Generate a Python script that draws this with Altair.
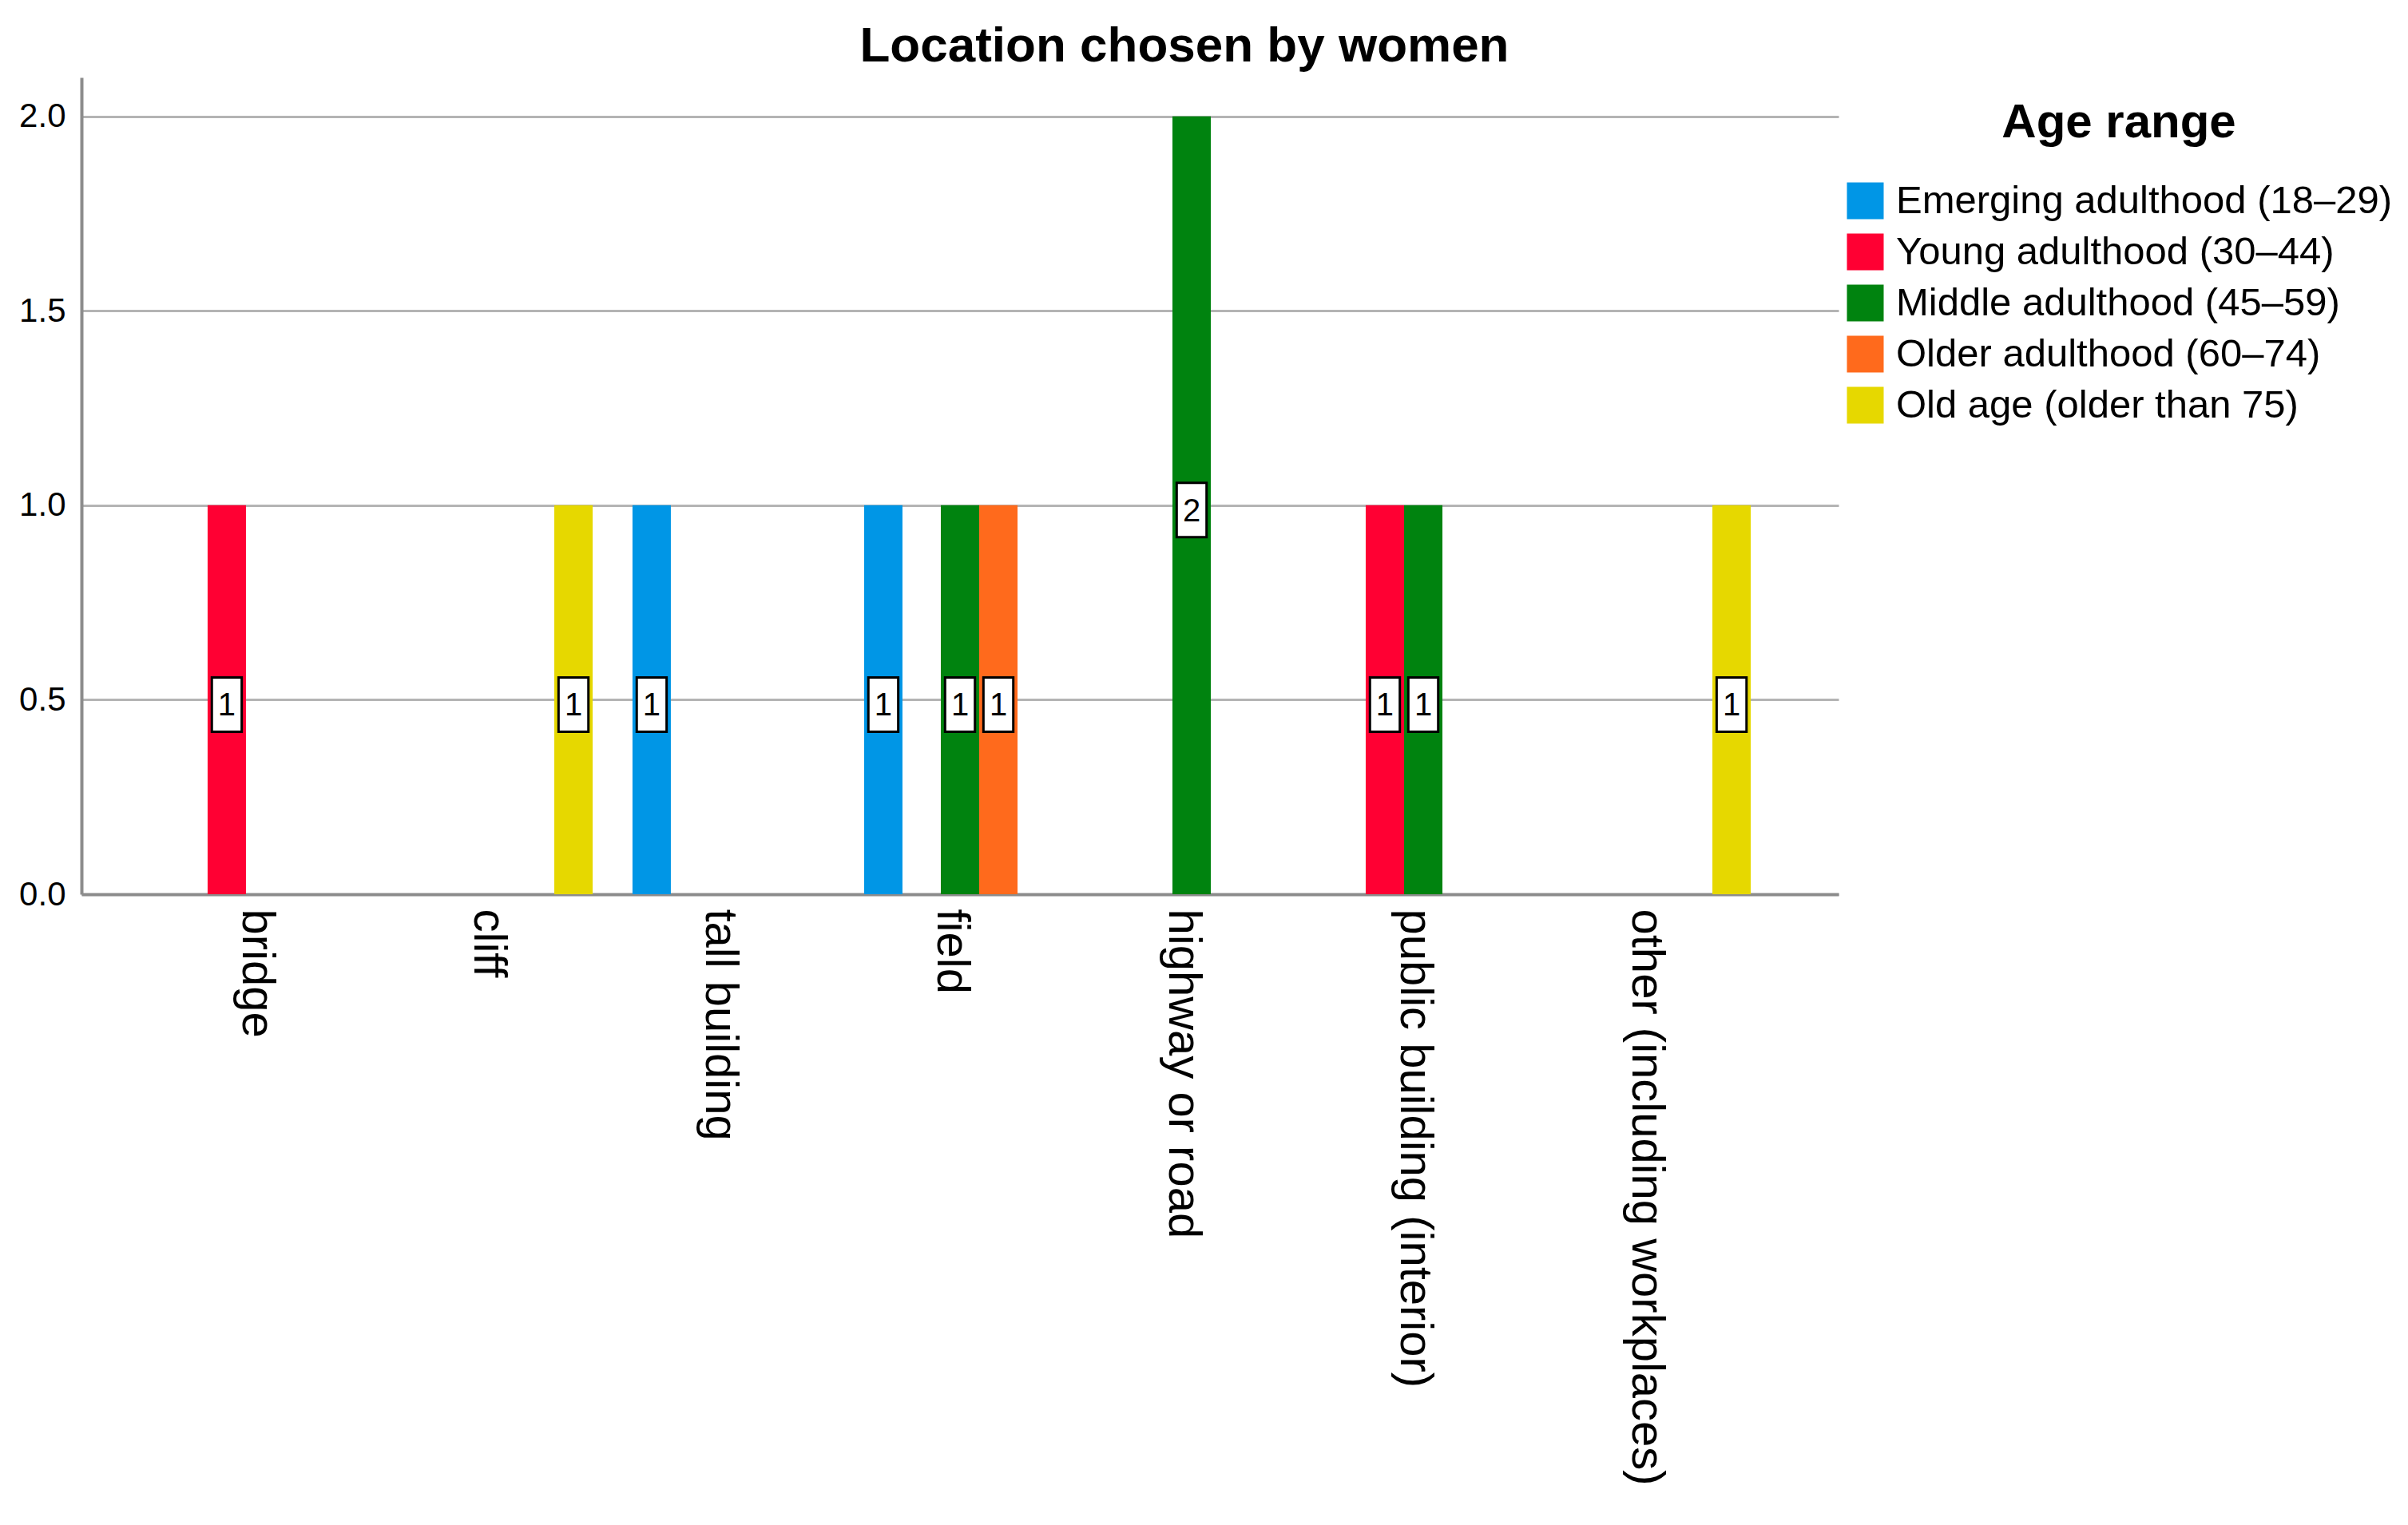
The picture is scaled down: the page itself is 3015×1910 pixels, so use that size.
import altair as alt
import pandas as pd

locations = ["bridge", "cliff", "tall building", "field", "highway or road",
             "public building (interior)", "other (including workplaces)"]
age_groups = ["Emerging adulthood (18–29)", "Young adulthood (30–44)",
              "Middle adulthood (45–59)", "Older adulthood (60–74)",
              "Old age (older than 75)"]
emerging = [0, 0, 1, 1, 0, 0, 0]
young = [1, 0, 0, 0, 0, 1, 0]
middle = [0, 0, 0, 1, 2, 1, 0]
older = [0, 0, 0, 1, 0, 0, 0]
old_age = [0, 1, 0, 0, 0, 0, 1]
colors = ["#0096e6", "#ff0033", "#00830f", "#ff6a1c", "#e6d800"]
y_ticks = [0, 0.5, 1.0, 1.5, 2.0]

rows = []
for age, counts in zip(age_groups, [emerging, young, middle, older, old_age]):
    for loc, c in zip(locations, counts):
        if c > 0:
            rows.append({"location": loc, "age": age, "count": c})
df = pd.DataFrame(rows)

FONT = "Liberation Sans"

x_enc = alt.X("location:N", sort=locations,
              scale=alt.Scale(domain=locations, paddingInner=0.172, paddingOuter=0.379),
              axis=alt.Axis(title=None, labelAngle=90, labelFontSize=58, labelFont=FONT,
                            labelColor="black", ticks=False, labelPadding=18,
                            labelOffset=-11,
                            domainColor="#8c8c8c", domainWidth=4, grid=False,
                            labelLimit=0))
xo_enc = alt.XOffset("age:N", scale=alt.Scale(domain=age_groups))

base = alt.Chart(df)

bars = base.mark_bar(opacity=1).encode(
    x=x_enc,
    xOffset=xo_enc,
    y=alt.Y("count:Q", scale=alt.Scale(domain=[0, 2.1], nice=False),
            axis=alt.Axis(values=y_ticks, format=".1f", title=None, labelFontSize=42,
                          labelFont=FONT, labelColor="black", ticks=False,
                          labelPadding=20, gridColor="#b4b4b4", gridWidth=3,
                          domainColor="#8c8c8c", domainWidth=4)),
    color=alt.Color("age:N", scale=alt.Scale(domain=age_groups, range=colors),
                    legend=alt.Legend(title="Age range", orient="none",
                                      legendX=2209, legendY=28,
                                      titleFontSize=60, titleFont=FONT,
                                      titleFontWeight="bold", titleColor="black",
                                      titleAnchor="middle", titleAlign="center",
                                      titleBaseline="top", titlePadding=42,
                                      titleLimit=0,
                                      labelFontSize=49, labelFont=FONT,
                                      labelColor="black", labelLimit=0,
                                      labelOffset=14, symbolType="square",
                                      symbolSize=2116, symbolStrokeWidth=0,
                                      symbolOpacity=1, rowPadding=14)),
)

boxes = base.transform_calculate(mid="datum.count / 2").mark_point(
    shape="M-0.55,-1L0.55,-1L0.55,1L-0.55,1Z", size=4624, filled=True,
    fill="white", stroke="black", strokeWidth=3, opacity=1, fillOpacity=1,
    strokeOpacity=1, yOffset=6,
).encode(
    x=alt.X("location:N", sort=locations),
    xOffset=alt.XOffset("age:N"),
    y=alt.Y("mid:Q"),
)

labels = base.transform_calculate(mid="datum.count / 2").mark_text(
    fontSize=40, font=FONT, color="black", baseline="middle", align="center", dy=8,
).encode(
    x=alt.X("location:N", sort=locations),
    xOffset=alt.XOffset("age:N"),
    y=alt.Y("mid:Q"),
    text=alt.Text("count:Q", format="d"),
)

chart = alt.layer(bars, boxes, labels).properties(
    width=2200,
    height=1023,
    autosize="none",
    background="white",
    padding={"left": 94, "top": 89, "right": 698, "bottom": 778},
    title=alt.TitleParams(text="Location chosen by women", fontSize=62, font=FONT,
                          fontWeight="bold", anchor="middle", frame="group",
                          dx=281, offset=7, color="black"),
).configure_view(stroke=None)

chart.save("out.html", embed_options={"renderer": "svg", "actions": False})
